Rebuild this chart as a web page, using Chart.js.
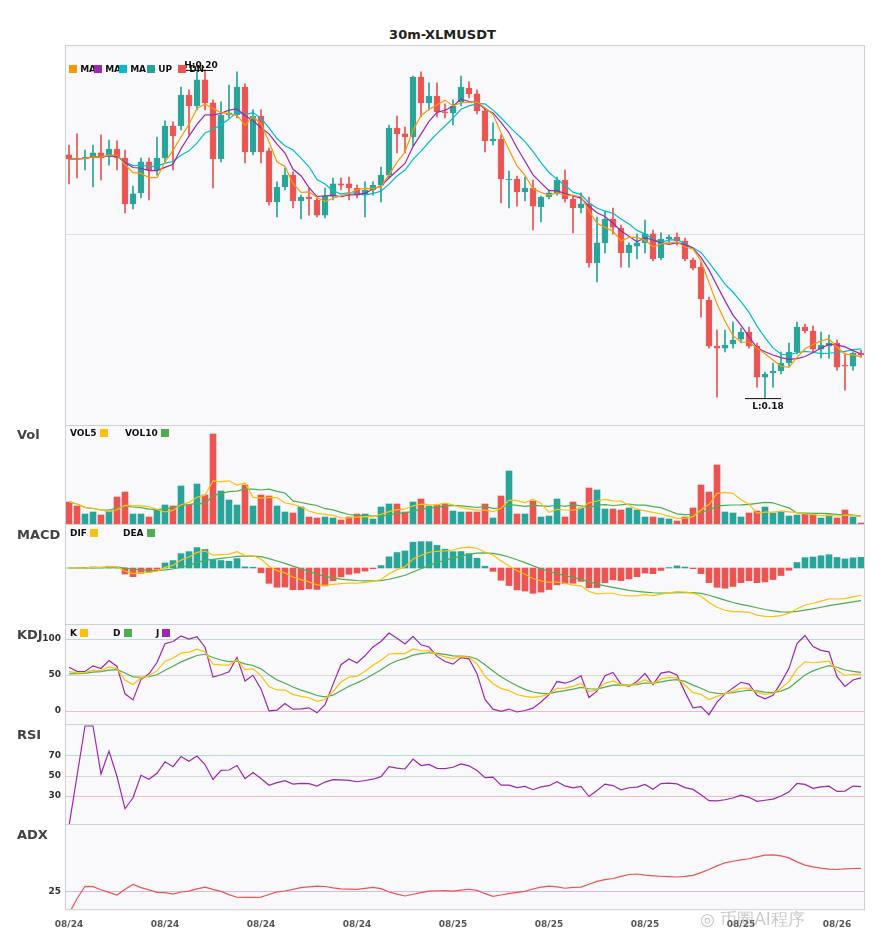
<!DOCTYPE html>
<html>
<head>
<meta charset="utf-8">
<script src="https://cdn.jsdelivr.net/npm/chart.js@4"></script>
<style>
  body { margin:0; background:#fff; font-family:"DejaVu Sans", sans-serif; }
  #wrap { position:relative; width:885px; height:950px; }
  canvas { position:absolute; left:0; }
  .t { position:absolute; font-weight:bold; color:#222; white-space:nowrap; }
  .pl { position:absolute; left:17px; font-weight:bold; font-size:13px; color:#444; }
  .lg { position:absolute; font-size:9px; font-weight:bold; color:#111; white-space:nowrap; }
  .sq { display:inline-block; width:8px; height:8px; vertical-align:-1px; }
</style>
</head>
<body>
<div id="wrap">
  <div class="t" style="left:0;width:885px;text-align:center;top:27px;font-size:13px;">30m-XLMUSDT</div>
  <canvas id="main" width="885" height="425" style="top:0"></canvas>
  <canvas id="vol" width="885" height="99" style="top:425px"></canvas>
  <canvas id="macd" width="885" height="100" style="top:524px"></canvas>
  <canvas id="kdj" width="885" height="100" style="top:624px"></canvas>
  <canvas id="rsi" width="885" height="100" style="top:724px"></canvas>
  <canvas id="adx" width="885" height="116" style="top:824px"></canvas>

  <div class="lg" style="left:69px;top:64px"><span class="sq" style="background:#ff9800"></span> MA</div>
  <div class="lg" style="left:94px;top:64px"><span class="sq" style="background:#9c27b0"></span> MA</div>
  <div class="lg" style="left:119px;top:64px"><span class="sq" style="background:#00bcd4"></span> MA</div>
  <div class="lg" style="left:147px;top:64px"><span class="sq" style="background:#26a69a"></span> UP</div>
  <div class="lg" style="left:178px;top:64px"><span class="sq" style="background:#ef5350"></span> DN</div>

  <div class="pl" style="top:427px">Vol</div>
  <div class="pl" style="top:527px">MACD</div>
  <div class="pl" style="top:627px">KDJ</div>
  <div class="pl" style="top:727px">RSI</div>
  <div class="pl" style="top:827px">ADX</div>

  <div class="lg" style="left:70px;top:428px">VOL5 <span class="sq" style="background:#ffc107"></span></div>
  <div class="lg" style="left:125px;top:428px">VOL10 <span class="sq" style="background:#4caf50"></span></div>
  <div class="lg" style="left:70px;top:528px">DIF <span class="sq" style="background:#ffc107"></span></div>
  <div class="lg" style="left:123px;top:528px">DEA <span class="sq" style="background:#4caf50"></span></div>
  <div class="lg" style="left:70px;top:628px">K <span class="sq" style="background:#ffc107"></span></div>
  <div class="lg" style="left:113px;top:628px">D <span class="sq" style="background:#4caf50"></span></div>
  <div class="lg" style="left:156px;top:628px">J <span class="sq" style="background:#9c27b0"></span></div>

  <div class="t" style="left:700px;top:908px;font-size:17px;color:rgba(150,150,150,0.5);font-weight:normal">◎ 币圈AI程序</div>
</div>
<script>
const opens = [0.19488,0.19469,0.19463,0.19475,0.19500,0.19488,0.19524,0.19469,0.19189,0.19256,
  0.19445,0.19396,0.19469,0.19664,0.19664,0.19853,0.19786,0.19945,0.19805,0.19463,
  0.19731,0.19731,0.19902,0.19506,0.19725,0.19512,0.19201,0.19292,0.19365,0.19207,
  0.19231,0.19213,0.19121,0.19237,0.19311,0.19311,0.19286,0.19250,0.19274,0.19304,
  0.19365,0.19652,0.19616,0.19597,0.19963,0.19805,0.19847,0.19750,0.19744,0.19811,
  0.19896,0.19860,0.19756,0.19573,0.19585,0.19335,0.19341,0.19262,0.19286,0.19170,
  0.19231,0.19256,0.19335,0.19219,0.19164,0.19189,0.18829,0.18951,0.19097,0.19042,
  0.18890,0.18932,0.18951,0.19006,0.18859,0.18975,0.18987,0.18963,0.18847,0.18804,
  0.18603,0.18322,0.18310,0.18335,0.18365,0.18408,0.18322,0.18133,0.18158,0.18170,
  0.18219,0.18286,0.18438,0.18414,0.18304,0.18322,0.18341,0.18207,0.18200,0.18280];
const closes = [0.19463,0.19463,0.19475,0.19500,0.19469,0.19524,0.19469,0.19189,0.19250,0.19445,
  0.19396,0.19469,0.19664,0.19603,0.19853,0.19786,0.19945,0.19805,0.19463,0.19731,
  0.19744,0.19902,0.19506,0.19725,0.19506,0.19201,0.19292,0.19365,0.19207,0.19231,
  0.19219,0.19121,0.19237,0.19311,0.19304,0.19286,0.19243,0.19274,0.19304,0.19365,
  0.19652,0.19616,0.19597,0.19963,0.19805,0.19847,0.19750,0.19744,0.19786,0.19902,
  0.19860,0.19756,0.19573,0.19585,0.19341,0.19341,0.19262,0.19286,0.19176,0.19231,
  0.19256,0.19335,0.19219,0.19164,0.19189,0.18829,0.18951,0.19097,0.19048,0.18890,
  0.18938,0.18951,0.19006,0.18853,0.18975,0.18987,0.18963,0.18853,0.18798,0.18609,
  0.18322,0.18310,0.18329,0.18359,0.18408,0.18322,0.18133,0.18152,0.18170,0.18219,
  0.18286,0.18438,0.18414,0.18304,0.18329,0.18341,0.18194,0.18200,0.18280,0.18268];
const highs = [0.19548,0.19616,0.19518,0.19548,0.19610,0.19579,0.19573,0.19518,0.19298,0.19469,
  0.19469,0.19597,0.19695,0.19689,0.19902,0.19884,0.19994,0.20006,0.19823,0.19811,
  0.19914,0.19994,0.19921,0.19762,0.19762,0.19530,0.19323,0.19408,0.19384,0.19243,
  0.19286,0.19225,0.19286,0.19347,0.19347,0.19353,0.19304,0.19323,0.19323,0.19414,
  0.19670,0.19725,0.19658,0.19969,0.19994,0.19927,0.19927,0.19799,0.19823,0.19969,
  0.19933,0.19884,0.19774,0.19683,0.19610,0.19390,0.19359,0.19353,0.19335,0.19237,
  0.19274,0.19353,0.19396,0.19243,0.19256,0.19231,0.19109,0.19146,0.19164,0.19060,
  0.18951,0.19006,0.19091,0.19030,0.19012,0.18999,0.19012,0.18981,0.18859,0.18835,
  0.18621,0.18420,0.18420,0.18469,0.18432,0.18438,0.18341,0.18164,0.18219,0.18286,
  0.18341,0.18469,0.18457,0.18444,0.18408,0.18390,0.18359,0.18280,0.18286,0.18298];
const lows = [0.19311,0.19347,0.19396,0.19292,0.19335,0.19426,0.19396,0.19134,0.19158,0.19225,
  0.19213,0.19365,0.19445,0.19396,0.19640,0.19610,0.19762,0.19762,0.19286,0.19445,
  0.19713,0.19713,0.19439,0.19488,0.19439,0.19182,0.19109,0.19274,0.19164,0.19097,
  0.19121,0.19109,0.19103,0.19213,0.19274,0.19213,0.19225,0.19109,0.19243,0.19201,
  0.19347,0.19500,0.19500,0.19542,0.19719,0.19762,0.19719,0.19713,0.19670,0.19786,
  0.19835,0.19738,0.19506,0.19548,0.19195,0.19164,0.19176,0.19207,0.19030,0.19079,
  0.19219,0.19243,0.19201,0.19012,0.19134,0.18804,0.18713,0.18890,0.19006,0.18804,
  0.18804,0.18853,0.18890,0.18841,0.18847,0.18951,0.18938,0.18841,0.18786,0.18499,
  0.18310,0.18011,0.18286,0.18310,0.18341,0.18310,0.18072,0.18005,0.18072,0.18152,
  0.18200,0.18274,0.18402,0.18280,0.18249,0.18249,0.18176,0.18054,0.18176,0.18255];
const volumes = [22,18,10,12,9,13,27,32,10,10,7,14,19,18,38,19,40,29,90,33,
  24,19,39,18,29,28,18,12,11,17,7,6,7,6,4,7,10,10,5,17,
  20,20,12,22,25,18,19,20,13,12,12,12,20,6,28,53,10,10,23,7,
  8,25,7,22,16,36,34,15,15,14,16,14,7,7,6,5,3,7,16,39,
  32,59,12,11,7,11,13,17,11,12,8,9,10,9,6,9,6,14,7,1];
const dateTicks = ["08/24","08/24","08/24","08/24","08/25","08/25","08/25","08/25","08/26"];
const tickEvery = 12;
const maPeriods = [5, 7, 10];

const UP = "#26a69a", DN = "#ef5350";
const idx = closes.map((_, i) => i);
const candleCol = closes.map((c, i) => c >= opens[i] ? UP : DN);

function ma(arr, n) {
  return arr.map((_, i) => {
    const s = arr.slice(Math.max(0, i - n + 1), i + 1);
    return s.reduce((a, b) => a + b, 0) / s.length;
  });
}
function ema(arr, n) {
  const k = 2 / (n + 1); let out = [];
  arr.forEach((v, i) => out.push(i === 0 ? v : v * k + out[i - 1] * (1 - k)));
  return out;
}

// MACD
const e12 = ema(closes, 12), e26 = ema(closes, 26);
const dif = closes.map((_, i) => e12[i] - e26[i]);
const dea = ema(dif, 9);
const hist = dif.map((d, i) => 2 * (d - dea[i]));

// KDJ
let kArr = [], dArr = [], jArr = [];
closes.forEach((c, i) => {
  const hh = Math.max(...highs.slice(Math.max(0, i - 8), i + 1));
  const ll = Math.min(...lows.slice(Math.max(0, i - 8), i + 1));
  const rsv = hh === ll ? 50 : (c - ll) / (hh - ll) * 100;
  const k = (i ? kArr[i - 1] : 50) * 2 / 3 + rsv / 3;
  const d = (i ? dArr[i - 1] : 50) * 2 / 3 + k / 3;
  kArr.push(k); dArr.push(d); jArr.push(3 * k - 2 * d);
});

// RSI
let rsiArr = [], ag = 0, al = 0;
closes.forEach((c, i) => {
  if (i === 0) { rsiArr.push(0); return; }
  const ch = c - closes[i - 1];
  const g = Math.max(ch, 0), l = Math.max(-ch, 0);
  if (i === 1) { ag = g; al = l; } else { ag = (ag * 13 + g) / 14; al = (al * 13 + l) / 14; }
  rsiArr.push(ag + al === 0 ? 50 : ag / (ag + al) * 100);
});

// ADX
let adxArr = [], tr14 = 0, pdm14 = 0, mdm14 = 0, adx = 0;
closes.forEach((c, i) => {
  if (i === 0) { adxArr.push(0); return; }
  const tr = Math.max(highs[i] - lows[i], Math.abs(highs[i] - closes[i - 1]), Math.abs(lows[i] - closes[i - 1]));
  const up = highs[i] - highs[i - 1], dn = lows[i - 1] - lows[i];
  const pdm = up > dn && up > 0 ? up : 0, mdm = dn > up && dn > 0 ? dn : 0;
  tr14 = tr14 - tr14 / 14 + tr; pdm14 = pdm14 - pdm14 / 14 + pdm; mdm14 = mdm14 - mdm14 / 14 + mdm;
  const pdi = pdm14 / tr14 * 100, mdi = mdm14 / tr14 * 100;
  const dx = pdi + mdi === 0 ? 0 : Math.abs(pdi - mdi) / (pdi + mdi) * 100;
  adx = (adx * 5 + dx) / 6;
  adxArr.push(adx);
});

const AXW = 65;
const frame = {
  id: "frame",
  beforeDraw(chart) {
    const { ctx, chartArea: a } = chart;
    ctx.save(); ctx.fillStyle = "#f9f9fb";
    ctx.fillRect(a.left, a.top, a.right - a.left, a.bottom - a.top); ctx.restore();
  },
  afterDraw(chart) {
    const { ctx, chartArea: a, scales: { y } } = chart;
    ctx.save(); ctx.strokeStyle = "#cfcfd8"; ctx.lineWidth = 1;
    ctx.strokeRect(a.left + 0.5, a.top + 0.5, a.right - a.left - 1, a.bottom - a.top);
    const labels = chart.options.plugins.frame && chart.options.plugins.frame.labels;
    if (labels) {
      ctx.fillStyle = "#333"; ctx.font = "bold 9px 'DejaVu Sans'";
      ctx.textAlign = "right"; ctx.textBaseline = "middle";
      labels.forEach(v => ctx.fillText(String(v), a.left - 4, y.getPixelForValue(v)));
    }
    ctx.restore();
  }
};
const line = (data, color, w) => ({ type: "line", data, borderColor: color, borderWidth: w || 1.2, pointRadius: 0, tension: 0, order: 0 });

function xScale(show) {
  return {
    type: "category", offset: true, display: show,
    grid: { display: false },
    border: { display: false },
    ticks: show ? {
      autoSkip: false, maxRotation: 0, padding: 2,
      font: { family: "DejaVu Sans", size: 9, weight: "bold" }, color: "#555",
      callback: (v, i) => i % tickEvery === 0 ? dateTicks[i / tickEvery] : ""
    } : {}
  };
}
function yScale(min, max, levels, gridCol) {
  return {
    min, max,
    afterFit(s) { s.width = AXW; },
    afterBuildTicks(s) { s.ticks = levels.map(v => ({ value: v })); },
    border: { display: false },
    grid: { color: ctx => gridCol[ctx.index] || "#ddd", drawTicks: false, lineWidth: 1 },
    ticks: { display: false }
  };
}
function opts(x, y, labels, bottomPad) {
  return {
    responsive: false, animation: false, devicePixelRatio: 1,
    layout: { padding: { left: 0, right: 20, top: 0, bottom: bottomPad || 0 } },
    plugins: { legend: { display: false }, tooltip: { enabled: false }, frame: { labels } },
    scales: { x, y }
  };
}

// main candles
const hiIdx = highs.indexOf(Math.max(...highs)), loIdx = lows.indexOf(Math.min(...lows));
const hlMarks = {
  id: "hl",
  afterDatasetsDraw(chart) {
    const { ctx, scales: { x, y } } = chart;
    ctx.save(); ctx.fillStyle = "#111"; ctx.strokeStyle = "#111"; ctx.lineWidth = 1;
    ctx.font = "bold 9px 'DejaVu Sans'"; ctx.textAlign = "center";
    let px = x.getPixelForValue(hiIdx), py = y.getPixelForValue(highs[hiIdx]);
    ctx.beginPath(); ctx.moveTo(px - 20, py + 0.5); ctx.lineTo(px + 8, py + 0.5); ctx.stroke();
    ctx.fillText("H:" + highs[hiIdx].toFixed(2), px - 4, py - 2);
    px = x.getPixelForValue(loIdx); py = y.getPixelForValue(lows[loIdx]);
    ctx.beginPath(); ctx.moveTo(px - 20, py + 0.5); ctx.lineTo(px + 16, py + 0.5); ctx.stroke();
    ctx.fillText("L:" + lows[loIdx].toFixed(2), px + 3, py + 11);
    ctx.restore();
  }
};
const mainOpts = opts(xScale(false), yScale(0.17841, 0.20158, [0.19], { 0: "#e0e0e0" }));
mainOpts.layout.padding.top = 45;
new Chart(document.getElementById("main"), {
  data: {
    labels: idx,
    datasets: [
      line(ma(closes, maPeriods[0]), "#ff9800"), line(ma(closes, maPeriods[1]), "#9c27b0"), line(ma(closes, maPeriods[2]), "#00bcd4"),
      { type: "bar", data: idx.map(i => [lows[i], highs[i]]), backgroundColor: candleCol, barThickness: 1, grouped: false, order: 2 },
      { type: "bar", data: idx.map(i => [opens[i], closes[i]]), backgroundColor: candleCol, borderColor: candleCol,
        borderWidth: 0.5, borderSkipped: false, barThickness: 6, grouped: false, order: 1 }
    ]
  },
  options: mainOpts,
  plugins: [frame, hlMarks]
});

// volume
new Chart(document.getElementById("vol"), {
  data: {
    labels: idx,
    datasets: [
      line(ma(volumes, 5), "#ffc107"), line(ma(volumes, 10), "#4caf50"),
      { type: "bar", data: volumes, backgroundColor: candleCol, barThickness: 6, order: 1 }
    ]
  },
  options: opts(xScale(false), yScale(0, 99, [], {})),
  plugins: [frame]
});

// macd: zero line sits 44% down the panel
const mAll = dif.concat(dea, hist);
const mLo = Math.min(...mAll) * 1.15;
new Chart(document.getElementById("macd"), {
  data: {
    labels: idx,
    datasets: [
      line(dif, "#ffc107"), line(dea, "#4caf50"),
      { type: "bar", data: hist, backgroundColor: hist.map(v => v >= 0 ? UP : DN), barThickness: 6, order: 1 }
    ]
  },
  options: opts(xScale(false), yScale(mLo, -mLo * 44 / 56, [], {})),
  plugins: [frame]
});

// kdj
new Chart(document.getElementById("kdj"), {
  data: { labels: idx, datasets: [line(kArr, "#ffc107"), line(dArr, "#4caf50"), line(jArr, "#9c27b0")] },
  options: opts(xScale(false), yScale(-18, 121, [0, 50, 100], { 0: "#f6b8c4", 1: "#d8d8d8", 2: "#b2dfdb" }), [0, 50, 100]),
  plugins: [frame]
});

// rsi
new Chart(document.getElementById("rsi"), {
  data: { labels: idx, datasets: [line(rsiArr, "#9c27b0")] },
  options: opts(xScale(false), yScale(2, 102, [30, 50, 70], { 0: "#f6b8c4", 1: "#d8d8d8", 2: "#b2dfdb" }), [30, 50, 70]),
  plugins: [frame]
});

// adx
new Chart(document.getElementById("adx"), {
  data: { labels: idx, datasets: [line(adxArr, "#ef5350")] },
  options: opts(xScale(true), yScale(5, 100, [25], { 0: "#d9b8e6" }), [25], 8),
  plugins: [frame]
});
</script>
</body>
</html>
